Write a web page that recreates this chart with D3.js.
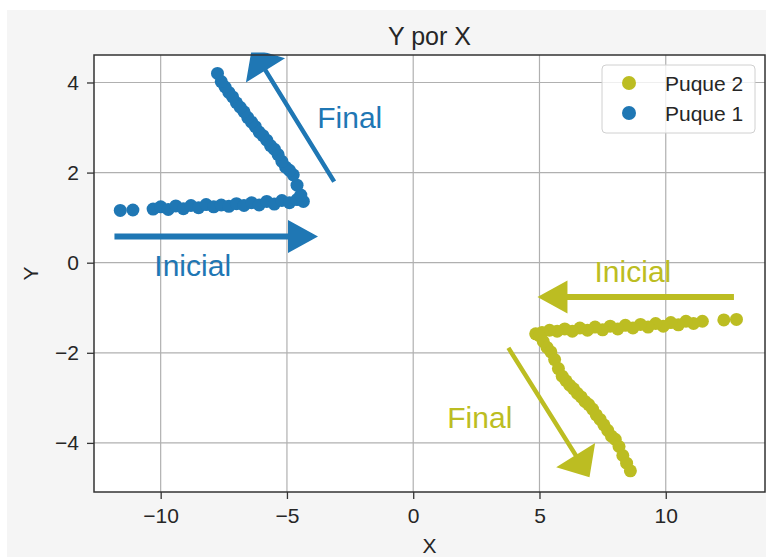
<!DOCTYPE html>
<html>
<head>
<meta charset="utf-8">
<script src="https://cdn.jsdelivr.net/npm/d3@7"></script>
<style>
  body { margin: 0; background: #fff; }
  text { font-family: "Liberation Sans", Arial, sans-serif; fill: #262626; }
</style>
</head>
<body>
<div id="plot"></div>
<script>
// Puque 1 (blue)
let puque1X = [-11.6, -11.1, -10.3, -10.0, -9.7, -9.4, -9.1, -8.8, -8.5, -8.2, -7.9, -7.6, -7.3, -7.0, -6.7, -6.4, -6.1, -5.8, -5.5, -5.2, -4.9, -4.6, -4.35,
  -4.45, -4.6, -4.75, -4.9, -5.05, -5.2, -5.35, -5.5, -5.65, -5.8, -5.95, -6.1, -6.25, -6.4, -6.55, -6.7, -6.85, -7.0, -7.15, -7.3, -7.45, -7.6, -7.75]
let puque1Y = [1.16, 1.17, 1.19, 1.24, 1.18, 1.26, 1.2, 1.27, 1.22, 1.29, 1.24, 1.28, 1.25, 1.31, 1.27, 1.33, 1.28, 1.36, 1.3, 1.38, 1.33, 1.4, 1.36,
  1.5, 1.72, 1.95, 2.05, 2.12, 2.25, 2.4, 2.52, 2.6, 2.72, 2.82, 2.9, 3.02, 3.12, 3.22, 3.35, 3.45, 3.55, 3.68, 3.78, 3.9, 4.02, 4.2]

// Puque 2 (olive)
let puque2X = [12.8, 12.3, 11.45, 11.1, 10.8, 10.5, 10.2, 9.9, 9.6, 9.3, 9.0, 8.7, 8.4, 8.1, 7.8, 7.5, 7.2, 6.9, 6.6, 6.3, 6.0, 5.7, 5.4, 5.1,
  4.85, 5.0, 5.15, 5.3, 5.45, 5.6, 5.75, 5.9, 6.05, 6.2, 6.35, 6.5, 6.65, 6.8, 6.95, 7.1, 7.25, 7.4, 7.55, 7.7, 7.85, 8.0, 8.15, 8.3, 8.45, 8.6]
let puque2Y = [-1.26, -1.27, -1.3, -1.35, -1.3, -1.38, -1.33, -1.41, -1.35, -1.43, -1.37, -1.45, -1.39, -1.47, -1.41, -1.49, -1.43, -1.5, -1.45, -1.52, -1.47, -1.52, -1.5, -1.55,
  -1.58, -1.62, -1.75, -1.88, -1.98, -2.15, -2.35, -2.52, -2.62, -2.72, -2.8, -2.9, -2.98, -3.08, -3.15, -3.25, -3.38, -3.48, -3.6, -3.72, -3.85, -3.92, -4.08, -4.28, -4.45, -4.62]

let xTicks = [-10, -5, 0, 5, 10]
let yTicks = [-4, -2, 0, 2, 4]

// annotations: arrow tail -> tip, label and where it sits
let arrowTail = [[-11.83, 0.58], [-3.13, 1.8], [12.7, -0.76], [3.77, -1.89]]
let arrowTip = [[-3.77, 0.58], [-6.39, 4.76], [4.92, -0.76], [6.98, -4.76]]
let arrowKind = ['Inicial', 'Final', 'Inicial', 'Final']
let arrowPuque = [1, 1, 2, 2]
let labelPos = [[-10.25, -0.3], [-3.8, 3.0], [7.18, -0.42], [1.35, -3.67]]

let colors = {1: '#1f77b4', 2: '#bcbd22'}

let pLeft = 94, pTop = 55, pRight = 765, pBottom = 492

let svg = d3.select('#plot').append('svg')
  .attr('width', 766)
  .attr('height', 558)

svg.append('rect')
  .attr('x', 7).attr('y', 10)
  .attr('width', 759).attr('height', 547)
  .attr('fill', '#f5f5f5')

svg.append('rect')
  .attr('x', pLeft).attr('y', pTop)
  .attr('width', pRight - pLeft).attr('height', pBottom - pTop)
  .attr('fill', '#fff')

let x = d3.scaleLinear().domain([-12.64, 13.93]).range([pLeft, pRight])
let y = d3.scaleLinear().domain([-5.09, 4.61]).range([pBottom, pTop])

// grid
svg.selectAll('.gx').data(xTicks).enter().append('line')
  .attr('x1', d => x(d)).attr('x2', d => x(d))
  .attr('y1', pTop).attr('y2', pBottom)
  .attr('stroke', '#b0b0b0').attr('stroke-width', 1.2)
svg.selectAll('.gy').data(yTicks).enter().append('line')
  .attr('y1', d => y(d)).attr('y2', d => y(d))
  .attr('x1', pLeft).attr('x2', pRight)
  .attr('stroke', '#b0b0b0').attr('stroke-width', 1.2)

// axes
let fmt = d => d3.format('d')(d).replace('-', '\u2212')
let xAxis = svg.append('g')
  .attr('transform', 'translate(0,' + pBottom + ')')
  .call(d3.axisBottom(x).tickValues(xTicks).tickSize(7).tickPadding(9).tickFormat(fmt))
let yAxis = svg.append('g')
  .attr('transform', 'translate(' + pLeft + ',0)')
  .call(d3.axisLeft(y).tickValues(yTicks).tickSize(7).tickPadding(8).tickFormat(fmt))

for (let ax of [xAxis, yAxis]) {
  ax.select('.domain').remove()
  ax.selectAll('line').attr('stroke', '#333').attr('stroke-width', 1.3)
  ax.selectAll('text').style('font-size', '21px').attr('fill', '#262626')
    .style('font-family', '"Liberation Sans", Arial, sans-serif')
}

// scatter
function drawPuque(xs, ys, color) {
  let pts = xs.map((d, i) => [d, ys[i]])
  svg.append('g').selectAll('circle').data(pts).enter().append('circle')
    .attr('cx', d => x(d[0]))
    .attr('cy', d => y(d[1]))
    .attr('r', 6.5)
    .attr('fill', color)
}
drawPuque(puque1X, puque1Y, colors[1])
drawPuque(puque2X, puque2Y, colors[2])

// arrows
svg.append('clipPath').attr('id', 'arrowClip')
  .append('rect').attr('x', 0).attr('y', 52.5).attr('width', 766).attr('height', 505)

function arrowPath(t, p, w, hw, hl) {
  let tx = x(t[0]), ty = y(t[1]), px = x(p[0]), py = y(p[1])
  let len = Math.hypot(px - tx, py - ty)
  let ux = (px - tx) / len, uy = (py - ty) / len
  let nx = -uy, ny = ux
  let bx = px - ux * hl, by = py - uy * hl
  let pts = [
    [tx + nx * w / 2, ty + ny * w / 2],
    [bx + nx * w / 2, by + ny * w / 2],
    [bx + nx * hw / 2, by + ny * hw / 2],
    [px, py],
    [bx - nx * hw / 2, by - ny * hw / 2],
    [bx - nx * w / 2, by - ny * w / 2],
    [tx - nx * w / 2, ty - ny * w / 2]
  ]
  return 'M' + pts.map(d => d.join(',')).join('L') + 'Z'
}

let arrows = svg.append('g').attr('clip-path', 'url(#arrowClip)')
for (let i = 0; i < arrowTail.length; i++) {
  let fin = arrowKind[i] == 'Final'
  arrows.append('path')
    .attr('d', arrowPath(arrowTail[i], arrowTip[i], fin ? 4.5 : 6, fin ? 46 : 33, fin ? 26 : 30))
    .attr('fill', colors[arrowPuque[i]])

  svg.append('text')
    .attr('x', x(labelPos[i][0]))
    .attr('y', y(labelPos[i][1]))
    .style('font-size', '30px')
    .style('fill', colors[arrowPuque[i]])
    .text(arrowKind[i])
}

// frame
svg.append('rect')
  .attr('x', pLeft).attr('y', pTop)
  .attr('width', pRight - pLeft).attr('height', pBottom - pTop)
  .attr('fill', 'none')
  .attr('stroke', '#333').attr('stroke-width', 1.5)

// titles
svg.append('text')
  .attr('x', (pLeft + pRight) / 2).attr('y', 45)
  .attr('text-anchor', 'middle')
  .style('font-size', '25px')
  .text('Y por X')

svg.append('text')
  .attr('x', (pLeft + pRight) / 2).attr('y', 553)
  .attr('text-anchor', 'middle')
  .style('font-size', '21px')
  .text('X')

svg.append('text')
  .attr('transform', 'translate(38,' + (pTop + pBottom) / 2 + ') rotate(-90)')
  .attr('text-anchor', 'middle')
  .style('font-size', '21px')
  .text('Y')

// legend
let legend = svg.append('g')
legend.append('rect')
  .attr('x', 602).attr('y', 65)
  .attr('width', 153).attr('height', 68)
  .attr('rx', 4)
  .attr('fill', '#fff').attr('fill-opacity', 0.8)
  .attr('stroke', '#d0d0d0')

let legendItems = [['Puque 2', colors[2]], ['Puque 1', colors[1]]]
legendItems.forEach((d, i) => {
  legend.append('circle')
    .attr('cx', 629).attr('cy', 83 + i * 30)
    .attr('r', 7)
    .attr('fill', d[1])
  legend.append('text')
    .attr('x', 665).attr('y', 90.5 + i * 30)
    .style('font-size', '21px')
    .text(d[0])
})
</script>
</body>
</html>
